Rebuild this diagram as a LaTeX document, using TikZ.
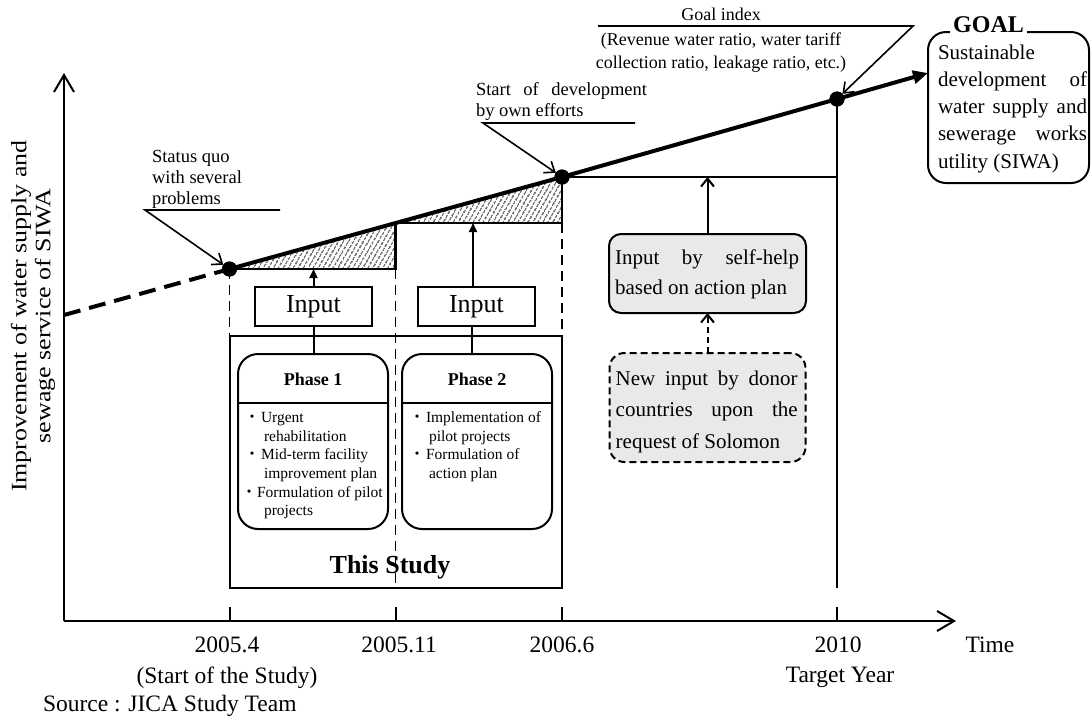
\documentclass[tikz,border=0pt]{standalone}
\usepackage{fontspec}
\setmainfont{Liberation Serif}
\newfontfamily\cjk{Noto Sans CJK JP}
\usetikzlibrary{arrows.meta,patterns.meta}
\definecolor{boxgray}{RGB}{233,233,233}
\newcommand{\LinesL}[1]{\vtop{\lineskiplimit=-100pt\halign{##\hfil\cr#1\crcr}}}
\newcommand{\LinesC}[1]{\vtop{\lineskiplimit=-100pt\halign{\hfil##\hfil\cr#1\crcr}}}
\newcommand{\Just}[2]{\makebox[#1][s]{#2}}
\newcommand{\Bul}[1]{\makebox[#1][c]{\cjk ・}}
\newcommand{\Wide}[1]{\scalebox{1.18}[1]{#1}}
\begin{document}
\begin{tikzpicture}[x=1pt,y=-1pt,
  every node/.style={inner sep=0pt, outer sep=0pt},
  axis/.style={line width=2pt},
  thickln/.style={line width=4pt},
  frame/.style={line width=2pt},
  midln/.style={line width=2.5pt},
  vdash/.style={line width=1.6pt, dash pattern=on 10pt off 6pt},
  ptr/.style={line width=1.6pt, -{Straight Barb[length=9pt,width=14pt]}},
  upfill/.style={frame, -{Triangle[length=9pt,width=8pt]}},
  upopen/.style={frame, -{Straight Barb[length=8pt,width=13pt]}},
  axarrow/.style={axis, -{Straight Barb[length=17pt,width=20pt]}},
  dot/.style={circle, fill=black, minimum size=15pt},
  hatch/.style={pattern={Lines[angle=60,distance=4pt,line width=1.2pt]}, pattern color=black!85},
  tA/.style={font=\fontsize{18.5}{21}\selectfont},
  tGI/.style={font=\fontsize{18}{23}\selectfont},
  tBul/.style={font=\fontsize{15.5}{18.6}\selectfont},
  tPh/.style={font=\fontsize{18}{21}\selectfont\bfseries},
  tIn/.style={font=\fontsize{26}{30}\selectfont},
  tBig/.style={font=\fontsize{26}{30}\selectfont\bfseries},
  tBox/.style={font=\fontsize{21}{30}\selectfont},
  tDon/.style={font=\fontsize{21}{31.5}\selectfont},
  tGoalTxt/.style={font=\fontsize{21}{27.2}\selectfont},
  tGOAL/.style={font=\fontsize{24}{28}\selectfont\bfseries},
  tAx/.style={font=\fontsize{23.5}{28}\selectfont},
  tY/.style={font=\fontsize{22}{24}\selectfont},
]
\useasboundingbox (0,0) rectangle (1091,716);

% key coordinates
\coordinate (O) at (64,621);
\coordinate (ytip) at (64,73);
\coordinate (xtip) at (956,621);
\coordinate (tk) at (0,607);
\coordinate (dv) at (0,403);
\coordinate (ystart) at (64,315);
\coordinate (h1) at (395.5,223);
\coordinate (h1b) at (395.5,269);
\coordinate (h2b) at (562,223);
\coordinate (gtip) at (928,73);
\coordinate (gil) at (598,26);
\coordinate (gir) at (913,26);
\coordinate (sdr) at (635,123);
\coordinate (sdl) at (483,123);
\coordinate (sqr) at (280,210);
\coordinate (sql) at (145,210);

% boxes
\node[draw, frame, minimum width=332.5pt, minimum height=252pt] (study) at (395.75,462) {};
\node[draw, frame, minimum width=117pt, minimum height=39pt, tIn] (in1) at (313.5,306.5) {Input};
\node[draw, frame, minimum width=117pt, minimum height=39pt, tIn] (in2) at (476.5,306.5) {Input};
\node[draw, frame, fill=white, rounded corners=20pt, minimum width=150pt, minimum height=175pt] (ph1) at (313,441.5) {};
\node[draw, frame, fill=white, rounded corners=20pt, minimum width=150pt, minimum height=175pt] (ph2) at (477,441.5) {};
\node[draw, frame, fill=boxgray, rounded corners=12pt, minimum width=197pt, minimum height=79pt] (self) at (707.5,273.5) {};
\node[draw, frame, dash pattern=on 7pt off 4pt, fill=boxgray, rounded corners=15pt, minimum width=196pt, minimum height=109pt] (donor) at (707.5,407.5) {};
\node[draw, frame, rounded corners=18pt, minimum width=161pt, minimum height=151pt] (goal) at (1008.5,107.5) {};

% hatched areas
\fill[hatch] (229.5,269) -- (h1) -- (h1b) -- cycle;
\fill[hatch] (h1) -- (562,177) -- (h2b) -- cycle;

% dashed verticals through the study
\draw[vdash] (229.5,269) -- (229.5,336);
\draw[vdash] (h1b) -- (h1 |- study.south);
\draw[vdash] (h2b) -- (562,336);

% dots
\node[dot] (d1) at (229.5,269) {};
\node[dot] (d2) at (562,177) {};
\node[dot] (d3) at (837,99) {};

% step lines
\draw[midln] (d1.center) -- (h1b) -- (h1);
\draw[midln] (h1) -- (h2b) -- (d2.center);
\draw[midln] (d2.center) -- (d2 -| d3);
\draw[midln] (d3.center) -- (d3 |- study.south);

% main trend line
\draw[thickln, dash pattern=on 17pt off 9pt] (ystart) -- (d1.center);
\draw[thickln] (d1.center) -- (d2.center) -- (d3.center);
\draw[thickln, -{Triangle[length=15pt,width=13pt]}] (d3.center) -- (gtip);
\node[dot] at (d1) {};
\node[dot] at (d2) {};
\node[dot] at (d3) {};

% ticks
\foreach \n in {d1,h1,d2,d3} \draw[axis] (\n |- tk) -- (\n |- O);

% axes
\draw[axarrow] (O) -- (ytip);
\draw[axarrow] (O) -- (xtip);

% phase contents
\node[tPh, anchor=base] (ph1t) at (313,385) {Phase 1};
\node[tPh, anchor=base] (ph2t) at (477,385) {Phase 2};
\draw[frame] (ph1.west |- dv) -- (ph1.east |- dv);
\draw[frame] (ph2.west |- dv) -- (ph2.east |- dv);
\node[tBul, anchor=base west] (ph1l) at (243,422.7) {\LinesL{\Bul{18pt}Urgent\cr
\hspace*{21pt}rehabilitation\cr
\Bul{18pt}Mid-term facility\cr
\hspace*{21pt}improvement plan\cr
\kern-2pt\Bul{16pt}Formulation of pilot\cr
\hspace*{21pt}projects}};
\node[tBul, anchor=base west] (ph2l) at (408,422.7) {\LinesL{\Bul{18pt}Implementation of\cr
\hspace*{21pt}pilot projects\cr
\Bul{18pt}Formulation of\cr
\hspace*{21pt}action plan}};
\node[tBig, anchor=base] (studyt) at (390,573) {This Study};

% connectors input -> phases, inputs -> steps
\draw[frame] (in1.south) -- (in1.south |- ph1.north);
\draw[frame] ([xshift=-4.5pt]in2.south) -- ([xshift=-4.5pt]in2.south |- ph2.north);
\draw[upfill] (in1.north) -- (in1.north |- d1);
\draw[upfill] ([xshift=-3.5pt]in2.north) -- ([xshift=-3.5pt]in2.north |- h1);

% self-help and donor
\node[tBox, anchor=base west] (selft) at (615,264.3) {\LinesL{\Just{184pt}{Input by self-help}\cr based on action plan}};
\node[tDon, anchor=base west] (donort) at (615.7,385.3) {\LinesL{\Just{182pt}{New input by donor}\cr\Just{182pt}{countries upon the}\cr request of Solomon}};
\draw[upopen] (self.north) -- (self.north |- d2);
\draw[frame, dash pattern=on 6pt off 4pt, -{Straight Barb[length=8pt,width=13pt]}] (donor.north) -- (self.south);

% goal
\node[tGOAL, fill=white, inner xsep=3pt, inner ysep=1.5pt, anchor=base] (goallbl) at (988.5,32) {GOAL};
\node[tGoalTxt, anchor=base west] (goalt) at (938,59.3) {\LinesL{Sustainable\cr\Just{149pt}{development of}\cr\Just{149pt}{water supply and}\cr\Just{149pt}{sewerage works}\cr utility (SIWA)}};

% annotations
\node[tGI, anchor=base] (gi) at (721,20.5) {Goal index};
\node[tGI, anchor=base] (gidesc) at (721,45.5) {\LinesC{(Revenue water ratio, water tariff\cr collection ratio, leakage ratio, etc.)}};
\draw[ptr] (gil) -- (gir) -- (d3);
\node[tA, anchor=base west] (sd) at (476,95.5) {\LinesL{\Just{171pt}{Start of development}\cr by own efforts}};
\draw[ptr] (sdr) -- (sdl) -- (d2);
\node[tA, anchor=base west] (sq) at (152,162.5) {\LinesL{Status quo\cr with several\cr problems}};
\draw[ptr] (sqr) -- (sql) -- (d1);

% axis labels
\node[tY, rotate=90] (ylab) at (33,316) {\LinesC{\Wide{Improvement of water supply and}\cr \Wide{sewage service of SIWA}}};
\node[tAx, anchor=base] (x1) at (227,652) {2005.4};
\node[tAx, anchor=base] (x2) at (399,652) {2005.11};
\node[tAx, anchor=base] (x3) at (562,652) {2006.6};
\node[tAx, anchor=base] (x4) at (838,652) {2010};
\node[tAx, anchor=base] (xt) at (990,652) {Time};
\node[tAx, anchor=base] (x1b) at (227,683) {(Start of the Study)};
\node[tAx, anchor=base] (x4b) at (840,682) {Target Year};
\node[tAx, anchor=base west] (src) at (43,711) {Source : JICA Study Team};
\end{tikzpicture}
\end{document}
